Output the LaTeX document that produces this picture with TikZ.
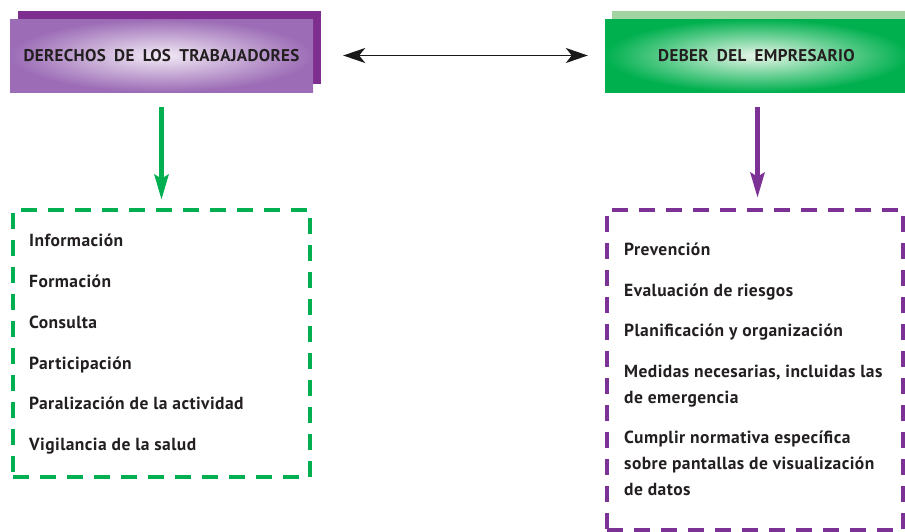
\documentclass[tikz,border=0pt]{standalone}
\usepackage{fontspec}
\setmainfont[LetterSpace=2.5]{PT Sans}
\newfontfamily\hfont[WordSpace=1.8,LetterSpace=2]{PT Sans}
\usetikzlibrary{arrows.meta}
\definecolor{pdark}{HTML}{7D2E8E}
\definecolor{pmid}{HTML}{9C6CB6}
\definecolor{plight}{HTML}{F2EAF5}
\definecolor{gmid}{HTML}{00B04F}
\definecolor{gback}{HTML}{A2D4A2}
\definecolor{glight}{HTML}{E8F6E8}
\definecolor{dgreen}{HTML}{00B050}
\definecolor{dpurple}{HTML}{7B3294}
\definecolor{ink}{HTML}{231F20}
\tikzset{
  backbox/.style={inner sep=0pt, minimum width=303pt, minimum height=73pt},
  headbox/.style={inner sep=0pt, minimum width=303pt, minimum height=73pt,
    font=\hfont\bfseries\fontsize{17}{19}\selectfont, text=ink},
  dashbox/.style={draw, inner sep=0pt, line width=4.6pt, dash pattern=on 16pt off 11pt},
  item/.style={anchor=base west, inner sep=0pt, font=\bfseries\fontsize{17.5}{20}\selectfont, text=ink},
  linkarrow/.style={line width=1.8pt, {Stealth[length=22pt,width=15pt,inset=6pt]}-{Stealth[length=22pt,width=15pt,inset=6pt]}},
  downarrow/.style={line width=4.6pt, -{Stealth[length=25pt,width=14pt,inset=4pt]}}
}
\begin{document}
\begin{tikzpicture}[x=1pt,y=-1pt]
\useasboundingbox (0,0) rectangle (905,531);
% headers
\node[backbox, fill=pdark] (derback) at (169.5,47.5) {};
\node[headbox, inner color=plight, outer color=pmid] (der) at (161.5,55.5) {DERECHOS DE LOS TRABAJADORES};
\node[backbox, fill=gback] (empback) at (763.5,47.5) {};
\node[headbox, inner color=glight, outer color=gmid] (emp) at (756.5,55.5) {DEBER DEL EMPRESARIO};
% boxes
\node[dashbox, draw=dgreen, minimum width=297pt, minimum height=267pt] (lbox) at (161.5,343.5) {};
\node[dashbox, draw=dpurple, minimum width=296pt, minimum height=320pt] (rbox) at (755,370) {};
% arrows
\draw[linkarrow, black!90] ([xshift=30pt]der.east) -- ([xshift=-17pt]emp.west);
\draw[downarrow, dgreen] ([yshift=-15pt]der.south) -- ([yshift=8pt]lbox.north);
\draw[downarrow, dpurple] ([yshift=-15pt,xshift=1pt]emp.south) -- ([yshift=10pt,xshift=2.5pt]rbox.north);
% left items
\node[item] (l1) at (29,246.7) {Información};
\node[item] (l2) at (29,287.5) {Formación};
\node[item] (l3) at (29,328.2) {Consulta};
\node[item] (l4) at (29,369) {Participación};
\node[item] (l5) at (29,409.5) {Paralización de la actividad};
\node[item] (l6) at (29,450.2) {Vigilancia de la salud};
% right items
\node[item] (r1) at (624,255.7) {Prevención};
\node[item] (r2) at (624,296.2) {Evaluación de riesgos};
\node[item] (r3) at (624,336.7) {Planificación y organización};
\node[item] (r4) at (624,377) {Medidas necesarias, incluidas las};
\node[item] (r4b) at (624,403) {de emergencia};
\node[item] (r5) at (624,443.3) {Cumplir normativa específica};
\node[item] (r5b) at (624,469.3) {sobre pantallas de visualización};
\node[item] (r5c) at (624,495.3) {de datos};
\end{tikzpicture}
\end{document}
